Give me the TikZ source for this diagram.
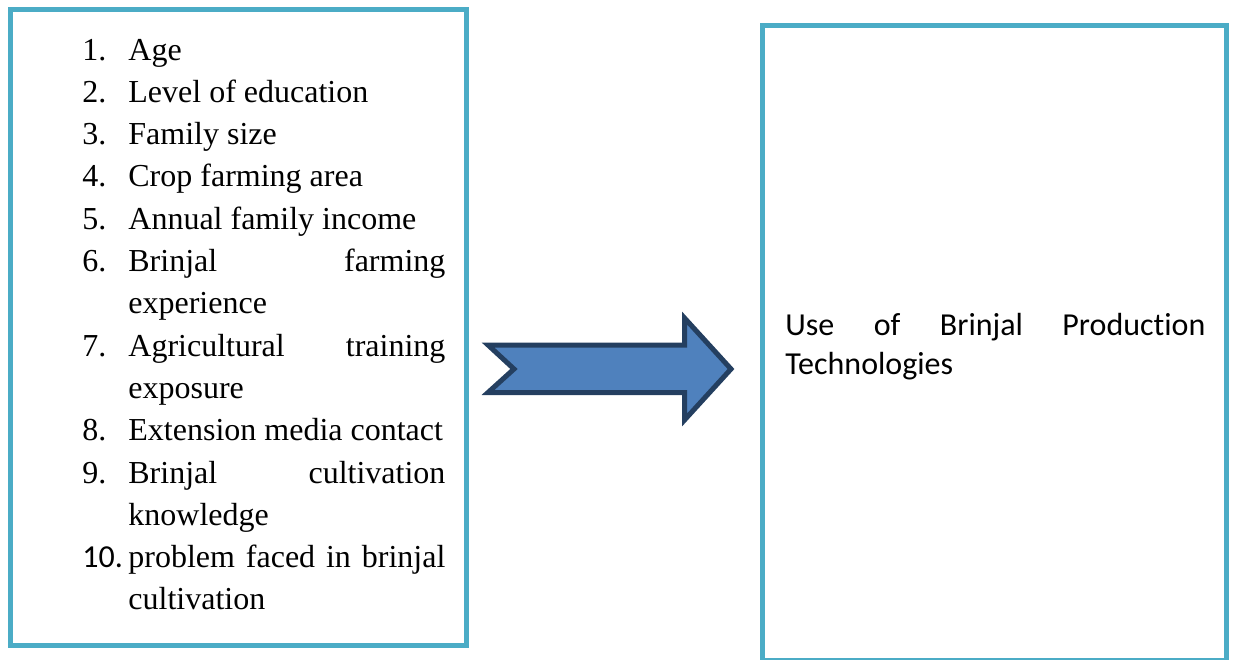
\documentclass[tikz,border=0pt]{standalone}
\usepackage{fontspec}
\setmainfont{Liberation Serif}
\newfontfamily\calibri[Ligatures=NoCommon]{Carlito}
\usetikzlibrary{positioning}

\definecolor{boxblue}{HTML}{4BACC6}
\definecolor{arrowfill}{HTML}{4F81BD}
\definecolor{arrowline}{HTML}{243F60}

% numbered list with a hanging indent, used inside the left panel
\newenvironment{factorlist}{%
  \begin{list}{}{\setlength{\leftmargin}{23pt}\setlength{\labelwidth}{23pt}%
    \setlength{\labelsep}{0pt}\setlength{\itemsep}{0pt}\setlength{\parsep}{0pt}%
    \setlength{\topsep}{0pt}\setlength{\partopsep}{0pt}%
    \renewcommand{\makelabel}[1]{##1\hfil}}}{\end{list}}

\begin{document}
\begin{tikzpicture}[x=0.5pt,y=-0.5pt,
                    panel/.style={draw=boxblue,line width=2.5pt,inner sep=0pt},
                    blockarrow/.style={draw=arrowline,fill=arrowfill,line width=2.5pt,
                                       line join=miter}]
  \useasboundingbox (0,0) rectangle (1235,659);

  \node[panel,minimum width=228pt,minimum height=318pt] (factors) at (238.5,327.5) {};
  \node[panel,minimum width=232pt,minimum height=317.75pt] (use) at (994.5,342.75) {};

  \node[anchor=west,inner sep=0pt,text width=181.5pt,align=justify,
        font=\fontsize{16}{21.15}\selectfont] (factorlist) at (82,314) {%
    \hyphenpenalty=10000 \tolerance=10000
    \begin{factorlist}
      \item[1.] Age
      \item[2.] Level of education
      \item[3.] Family size
      \item[4.] Crop farming area
      \item[5.] Annual family income
      \item[6.] Brinjal farming\linebreak experience
      \item[7.] Agricultural training\linebreak exposure
      \item[8.] Extension media contact
      \item[9.] Brinjal cultivation\linebreak knowledge
      \item[{\calibri 10.}] problem faced in brinjal\linebreak cultivation
    \end{factorlist}};

  \node[anchor=west,inner sep=0pt,text width=210pt,align=justify,
        font=\calibri\fontsize{16}{19.5}\selectfont] (usetext) at (785,347)
        {\tolerance=10000 Use of Brinjal Production\linebreak Technologies};

  % notched block arrow between the panels
  \draw[blockarrow] (488,345) -- (684.5,345) -- (684.5,318) -- (731,369)
        -- (684.5,420) -- (684.5,392.5) -- (488,392.5) -- (514,369) -- cycle;
\end{tikzpicture}
\end{document}
